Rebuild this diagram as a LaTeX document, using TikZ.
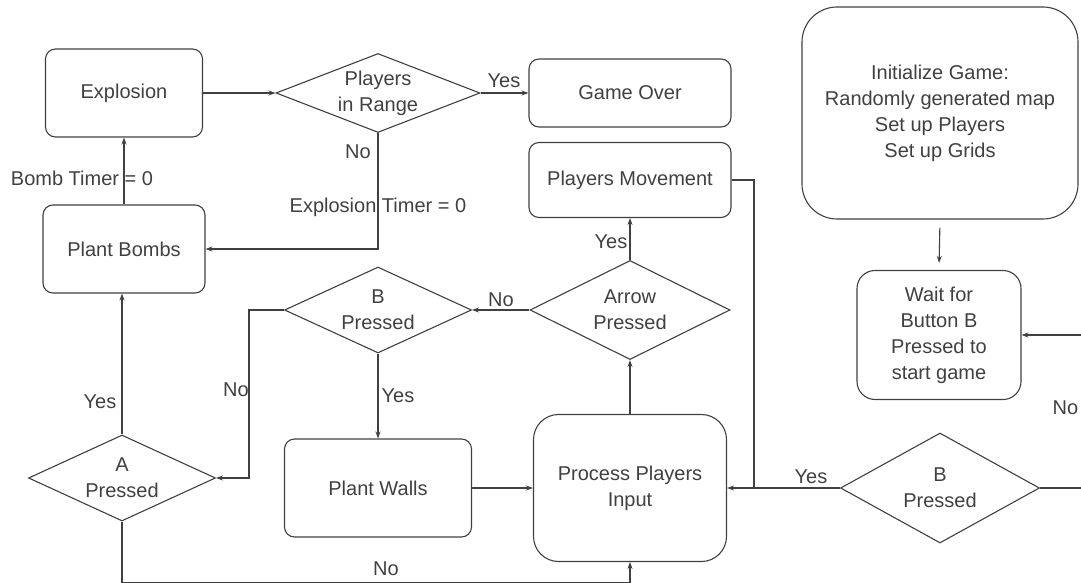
\documentclass[tikz,border=0pt]{standalone}
\usepackage{fontspec}
\setmainfont{Liberation Sans}
\usetikzlibrary{shapes.geometric,arrows.meta}
\begin{document}
\begin{tikzpicture}[x=1pt, y=-1pt, line width=1.1pt, color=black!75,
		block/.style={draw, rounded corners=10pt, align=center, inner sep=2pt, font=\fontsize{20}{26}\selectfont},
		decision/.style={diamond, draw, aspect=2.2, inner sep=0pt, align=center, font=\fontsize{20}{26}\selectfont},
		lbl/.style={inner sep=1pt, font=\fontsize{20}{24}\selectfont},
		line/.style={-{Stealth[length=7pt, width=5pt]}}]
		\useasboundingbox (0,0) rectangle (1081,583);
		
		% left loop
		\node[block, minimum width=157pt, minimum height=88pt] (explosion) at (124,93) {Explosion};
		\node[decision, aspect=2.6, minimum width=204pt, minimum height=79pt] (range) at (378,93) {Players\\in Range};
		\node[block, minimum width=202pt, minimum height=68pt] (over) at (630,93) {Game Over};
		\node[block, minimum width=162pt, minimum height=88pt] (bombs) at (124,249) {Plant Bombs};
		\node[block, minimum width=202pt, minimum height=75pt] (move) at (630,180) {Players Movement};
		\node[decision, minimum width=187pt, minimum height=86pt] (bpress) at (378,310) {B\\Pressed};
		\node[decision, aspect=2, minimum width=200pt, minimum height=99pt] (arrow) at (630,310) {Arrow\\Pressed};
		\node[decision, minimum width=187pt, minimum height=86pt] (apress) at (122,478) {A\\Pressed};
		\node[block, minimum width=187pt, minimum height=98pt] (walls) at (378,488) {Plant Walls};
		\node[block, rounded corners=25pt, minimum width=193pt, minimum height=147pt] (input) at (630,488) {Process Players\\Input};
		
		% start
		\node[block, rounded corners=35pt, minimum width=276pt, minimum height=212pt] (init) at (940,113) {Initialize Game:\\Randomly generated map\\Set up Players\\Set up Grids};
		\node[block, rounded corners=18pt, minimum width=164pt, minimum height=129pt] (wait) at (939,335) {Wait for\\Button B\\Pressed to\\start game};
		\node[decision, aspect=1.8, minimum width=199pt, minimum height=110pt] (bstart) at (940,488) {B\\Pressed};
		\coordinate (join) at (754,488);
		\coordinate (outB) at (1081,488);
		\coordinate (backW) at (1081,335);
		
		\draw[line] (bombs.north) -- (explosion.south);
		\draw[line] (explosion.east) -- (range.west);
		\draw[line] (range.east) -- (over.west);
		\draw[line] (range.south) |- (bombs.east);
		\draw[line] (apress.north) -- (apress.north |- bombs.south);
		\draw[line] (bpress.west) -- ++(-35,0) |- (apress.east);
		\draw[line] (arrow.west) -- (bpress.east);
		\draw[line] (arrow.north) -- (move.south);
		\draw[line] (input.north) -- (arrow.south);
		\draw[line] (bpress.south) -- (walls.north);
		\draw[line] (walls.east) -- (input.west);
		\draw[line] (apress.south) -- ++(0,61) -| (input.south);
		\draw (move.east) -| (join);
		\draw[line] (bstart.west) -- (input.east);
		\draw (bstart.east) -- (outB);
		\draw[line] (backW) -- (wait.east);
		\draw[line, shorten <=8pt, shorten >=7pt] (init.south) -- (wait.north);
		
		% labels
		\node[lbl] (yesOver) at (504,81) {Yes};
		\node[lbl] (bombTimer) at (82,178) {Bomb Timer = 0};
		\node[lbl] (noRange) at (358,152) {No};
		\node[lbl] (expTimer) at (378,207) {Explosion Timer = 0};
		\node[lbl] (yesA) at (100,402) {Yes};
		\node[lbl] (noB) at (236,390) {No};
		\node[lbl] (noArrow) at (501,300) {No};
		\node[lbl] (yesArrow) at (611,242) {Yes};
		\node[lbl] (yesB) at (398,396) {Yes};
		\node[lbl] (noA) at (386,569) {No};
		\node[lbl] (yesStart) at (811,477) {Yes};
		\node[lbl, anchor=west] (noStart) at (1051,408) {No};
	\end{tikzpicture}
\end{document}
